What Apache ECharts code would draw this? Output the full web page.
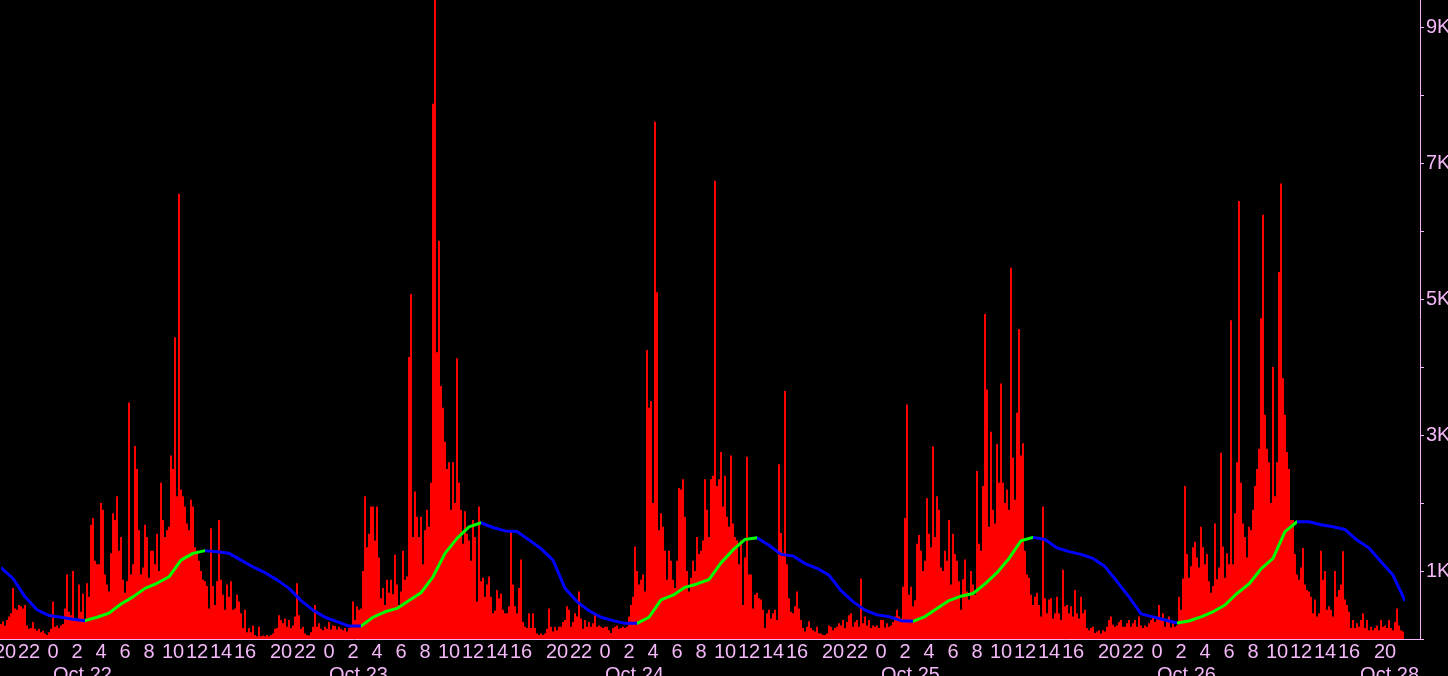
<!DOCTYPE html>
<html>
<head>
<meta charset="utf-8">
<title>Volume Oct 22 - Oct 26</title>
<script src="https://cdn.jsdelivr.net/npm/echarts@6/dist/echarts.min.js"></script>
<style>
  html, body { margin: 0; padding: 0; background: #000; }
  #chart { width: 1448px; height: 676px; }
</style>
</head>
<body>
<div id="chart"></div>
<script>
// 10 minute volume bars, one array per session (a session closes 16:00, the next bar is 17:10)
const volOct22 = [ // Oct 21 19:40 -> Oct 22 16:00
  220, 260, 200, 280, 330, 380, 750, 450, 430, 500,
  480, 450, 500, 200, 150, 160, 250, 150, 120, 150,
  100, 120, 80, 60, 100, 150, 550, 180, 200, 160,
  200, 220, 450, 950, 400, 350, 1000, 300, 280, 800,
  400, 670, 300, 820, 620, 1680, 1780, 1150, 1100, 1100,
  2000, 1900, 950, 800, 700, 1260, 1850, 1750, 2100, 1300,
  1500, 870, 680, 850, 3480, 950, 1100, 2840, 2500, 1600,
  950, 1050, 1680, 1500, 900, 1300, 1300, 1100, 1550, 1000,
  2300, 1750, 1500, 1600, 1650, 2700, 2500, 4440, 2100, 6550,
  2200, 2100, 1950, 1700, 1600, 2050, 1950, 1350, 1300, 1150,
  1000, 870, 850, 780, 450, 1630, 780, 500, 850, 1750,
  870, 650, 430, 800, 620, 850, 430, 450, 650, 550,
  380, 160, 430
];
const volOct23 = [
  100, 160, 100, 200, 60, 40, 180,
  40, 50, 40, 60, 40, 60, 80, 150, 160, 350,
  280, 230, 300, 180, 280, 160, 200, 330, 820, 350,
  150, 180, 80, 60, 50, 100, 180, 500, 180, 230,
  150, 130, 180, 150, 250, 140, 200, 190, 140, 180,
  150, 130, 160, 110, 160, 180, 550, 280, 480, 430,
  450, 1000, 2100, 1350, 1550, 1950, 1950, 1450, 1950, 1200,
  600, 750, 500, 870, 680, 870, 660, 1240, 800, 500,
  700, 1300, 870, 920, 4150, 5075, 1500, 2170, 1800, 1500,
  1800, 1100, 1600, 1900, 1650, 2300, 7875, 9900, 4220, 5860,
  3720, 3400, 2900, 2500, 2600, 1900, 2600, 2000, 4130, 2300,
  1900, 1400, 1880, 1550, 1450, 1150, 1750, 1500, 550, 1950,
  850, 900, 620, 800, 920, 620, 380, 420, 720, 600,
  670, 430, 380, 380, 480, 1580, 800, 480, 380, 750,
  1170
];
const volOct24 = [
  250, 180, 160, 380, 160, 380, 160, 80, 60,
  80, 60, 80, 150, 450, 180, 110, 180, 130, 180,
  180, 250, 280, 480, 430, 180, 250, 380, 330, 700,
  300, 150, 280, 180, 250, 180, 230, 380, 180, 200,
  180, 160, 180, 180, 130, 90, 160, 180, 200, 150,
  160, 180, 160, 180, 330, 500, 620, 1360, 1000, 800,
  870, 950, 700, 4250, 3400, 3500, 2000, 7610, 5100, 1600,
  1850, 1650, 1300, 870, 1300, 1150, 870, 750, 1150, 2220,
  2200, 2350, 1800, 1000, 700, 900, 1150, 1000, 1500, 1250,
  1300, 1450, 2350, 1900, 1500, 2350, 2400, 6740, 2250, 2350,
  2750, 1950, 2400, 1800, 1650, 2700, 1700, 1500, 1450, 1100,
  1450, 500, 1200, 2680, 950, 950, 450, 650, 680, 600,
  580, 430, 160, 380, 430, 300, 380, 430, 280, 2570,
  1560, 1270, 3650, 1100, 600, 400, 380, 480, 700
];
const volOct25 = [
  450,
  280, 160, 110, 180, 260, 160, 130, 110, 180, 80,
  80, 60, 60, 80, 200, 180, 130, 160, 180, 230,
  200, 280, 160, 250, 350, 380, 180, 250, 280, 180,
  890, 230, 330, 200, 280, 160, 200, 180, 200, 160,
  280, 280, 170, 230, 180, 200, 250, 330, 430, 330,
  300, 770, 1780, 3450, 650, 770, 480, 570, 1400, 1530,
  1300, 1000, 1150, 2070, 1550, 1350, 2830, 1500, 2100, 1900,
  1050, 1000, 1300, 1150, 1750, 800, 1550, 1250, 1150, 850,
  430, 880, 1170, 700, 580, 1000, 800, 650, 2470, 1400,
  1300, 2250, 4780, 3670, 1650, 3050, 1900, 1700, 2870, 2300,
  3760, 2300, 2000, 2200, 1900, 5460, 2670, 2050, 3330, 4560,
  2700, 2880, 1300, 950, 900, 650, 500, 620, 680, 500,
  330, 1950, 600, 380, 580, 600, 300, 380, 620, 380,
  280, 1020, 480, 500, 380, 480, 330
];
const volOct26 = [
  720, 380, 300,
  620, 380, 430, 160, 130, 160, 180, 90, 110, 130,
  80, 130, 110, 180, 280, 330, 210, 180, 200, 250,
  280, 180, 180, 230, 280, 180, 230, 280, 180, 330,
  200, 160, 200, 180, 230, 280, 330, 250, 300, 500,
  280, 380, 180, 250, 330, 170, 230, 180, 200, 620,
  430, 890, 2250, 1250, 900, 1070, 1350, 1430, 1200, 1050,
  1650, 1350, 1100, 1250, 850, 680, 780, 1700, 880, 1050,
  2740, 1360, 900, 1260, 1100, 4690, 1100, 1850, 2600, 6445,
  2300, 1700, 1500, 1200, 1650, 1600, 1900, 2250, 2500, 2800,
  4720, 6240, 3300, 2800, 2600, 2000, 4000, 2100, 2600, 5400,
  6700, 3835, 3300, 2750, 2500, 1750, 1750, 1250, 950, 870,
  1050, 1340, 800, 720, 700, 620, 380, 580, 330, 380,
  1300, 870, 1000, 430, 480, 430, 330, 1000, 620, 720,
  800, 1290, 580, 500, 400
];
const volOct29 = [ // Oct 26 17:10 -> 21:30
  160, 280, 160, 230, 180, 280, 380, 160, 280, 130,
  180, 130, 160, 200, 130, 280, 180, 200, 160, 280,
  160, 130, 250, 450, 200, 130, 110
];

// hourly trend (one value every 6 bars), green while rising, blue while falling
const trendHourly = [
  1050, 890, 620, 430, 345, 320, 290, 270, 320, 380,
  515, 620, 745, 820, 915, 1160, 1260, 1300, 1285, 1260,
  1160, 1060, 975, 870, 745, 565, 425, 320, 255, 190,
  190, 320, 400, 450, 565, 680, 915, 1260, 1480, 1650,
  1710, 1640, 1590, 1580, 1455, 1330, 1160, 745, 550, 415,
  320, 270, 230, 230, 320, 575, 645, 760, 810, 875,
  1120, 1310, 1465, 1490, 1380, 1245, 1220, 1110, 1040, 940,
  710, 550, 425, 355, 330, 270, 260, 330, 450, 565,
  630, 670, 810, 975, 1185, 1445, 1495, 1465, 1340, 1285,
  1245, 1185, 1065, 845, 620, 370, 325, 280, 235, 265,
  325, 400, 500, 670, 810, 1030, 1185, 1580, 1725, 1725,
  1680, 1650, 1610, 1455, 1340, 1135, 940, 560
];

const dateLabels = ['Oct 22', 'Oct 23', 'Oct 24', 'Oct 25', 'Oct 26'];
const trailingDateLabel = 'Oct 28';
const yTickValues = [1000, 3000, 5000, 7000, 9000];

const axisColor = '#f4b8f8';
const fontFamily = 'Liberation Sans, Arial, sans-serif';
const barsPerHour = 6;
const slotCount = 710;

const volume = [].concat(volOct22, volOct23, volOct24, volOct25, volOct26, volOct29);
const lastBar = volume.length - 1;

// 10 minute slots, labelled by bar end time, the 16:00 -> 17:00 break is skipped
function pad(n) { return (n < 10 ? '0' : '') + n; }
const slots = [];
let t = new Date(2018, 9, 21, 19, 40);
while (slots.length < slotCount) {
  const h = t.getHours(), m = t.getMinutes();
  const inBreak = (h === 16 && m > 0) || (h === 17 && m === 0);
  if (!inBreak) {
    slots.push(pad(t.getMonth() + 1) + '-' + pad(t.getDate()) + ' ' + pad(h) + ':' + pad(m));
  }
  t = new Date(t.getTime() + 10 * 60 * 1000);
}
let midnightCount = 0;
const midnightIndex = {};
slots.forEach((s, i) => {
  if (s.endsWith(' 00:00')) midnightIndex[i] = midnightCount++;
});

function slotHour(s) { return +s.slice(6, 8); }
function isEvenHour(i, s) { return i <= lastBar && s.endsWith(':00') && slotHour(s) % 2 === 0; }

// trend line colour sections
const pieces = [];
for (let k = 0; k < trendHourly.length - 1; k++) {
  const color = trendHourly[k + 1] > trendHourly[k] ? '#00ff00' : '#0000ff';
  const last = pieces[pieces.length - 1];
  if (last && last.color === color) {
    last.lt = (k + 1) * barsPerHour;
  } else {
    pieces.push({ gte: k * barsPerHour, lt: (k + 1) * barsPerHour, color: color });
  }
}
const lastPiece = pieces[pieces.length - 1];
lastPiece.lte = lastPiece.lt;
delete lastPiece.lt;

const chart = echarts.init(document.getElementById('chart'));
chart.setOption({
  animation: false,
  backgroundColor: '#000000',
  grid: { left: 0, right: 28, top: 0, bottom: 37, containLabel: false, outerBoundsMode: 'none' },
  xAxis: [
    {
      type: 'category',
      data: slots,
      axisLine: { lineStyle: { color: axisColor, width: 1 } },
      axisTick: {
        alignWithLabel: true,
        length: 4,
        interval: (i, v) => isEvenHour(i, v),
        lineStyle: { color: axisColor }
      },
      axisLabel: {
        interval: (i, v) => isEvenHour(i, v) && slotHour(v) !== 18,
        formatter: v => String(slotHour(v)),
        color: axisColor,
        fontSize: 20,
        fontFamily: fontFamily,
        margin: 3
      },
      splitLine: { show: false }
    },
    {
      type: 'category',
      data: slots,
      position: 'bottom',
      offset: 23,
      axisLine: { show: false },
      axisTick: { show: false },
      axisLabel: {
        interval: (i, v) => midnightIndex[i] !== undefined || i === slots.length - 1,
        formatter: (v, i) => midnightIndex[i] !== undefined ? dateLabels[midnightIndex[i]] : trailingDateLabel,
        align: 'left',
        alignMaxLabel: 'right',
        color: axisColor,
        fontSize: 20,
        fontFamily: fontFamily,
        margin: 3
      },
      splitLine: { show: false }
    }
  ],
  yAxis: {
    type: 'value',
    position: 'right',
    min: 0,
    max: 9400,
    interval: 1000,
    axisLine: { show: true, lineStyle: { color: axisColor, width: 1 } },
    axisTick: { show: true, length: 4, lineStyle: { color: axisColor } },
    axisLabel: {
      showMaxLabel: false,
      color: axisColor,
      fontSize: 20,
      fontFamily: fontFamily,
      margin: 6,
      formatter: v => yTickValues.indexOf(v) >= 0 ? (v / 1000) + 'K' : ''
    },
    splitLine: { show: false }
  },
  visualMap: {
    show: false,
    type: 'piecewise',
    seriesIndex: 1,
    dimension: 0,
    pieces: pieces
  },
  series: [
    {
      name: 'Volume',
      type: 'bar',
      data: volume,
      barCategoryGap: 0,
      itemStyle: { color: '#ff0000' }
    },
    {
      name: 'Trend',
      type: 'line',
      data: trendHourly.map((v, k) => [k * barsPerHour, v]),
      showSymbol: false,
      lineStyle: { width: 3 },
      z: 3
    }
  ]
});
</script>
</body>
</html>
